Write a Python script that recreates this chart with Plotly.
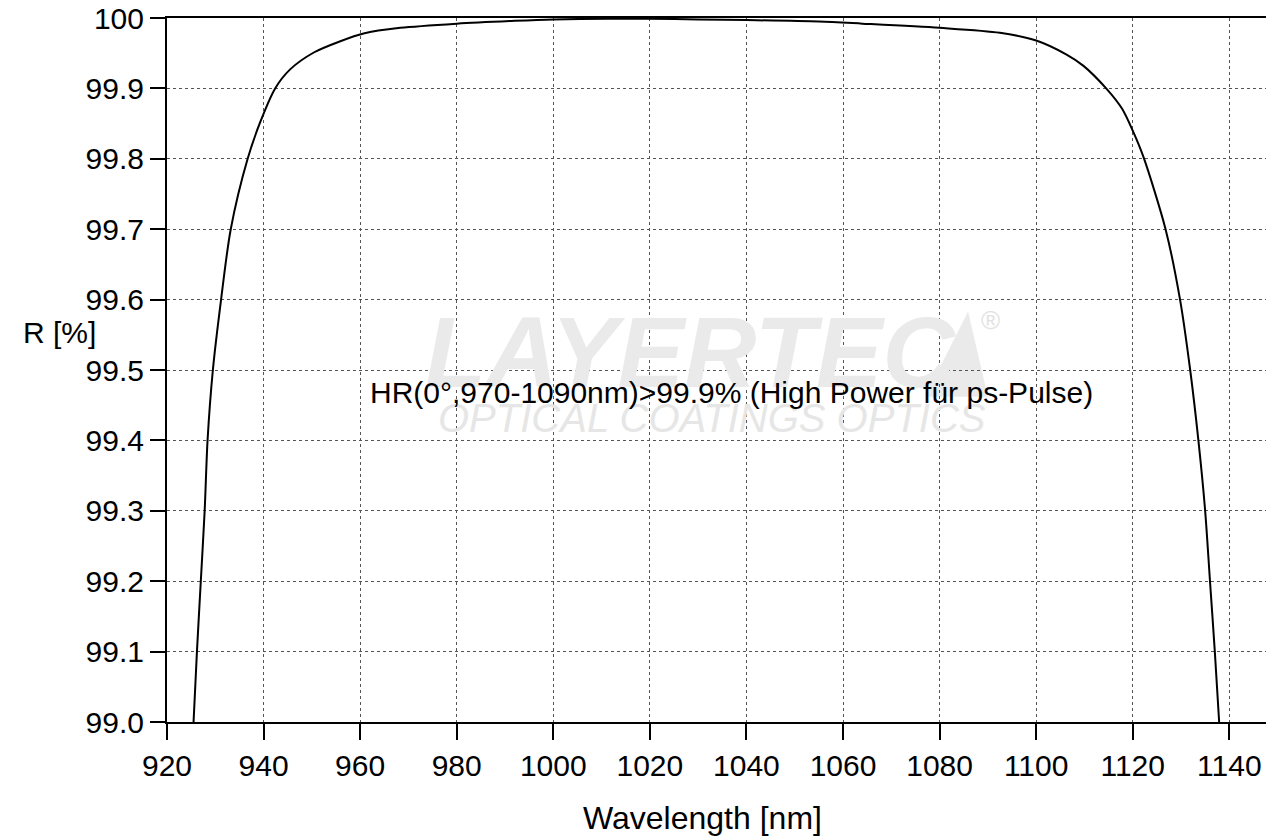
import plotly.graph_objects as go

# Data
wavelength_nm = [925.5, 926.2, 927.0, 927.8, 928.4, 929.5, 931.2, 933.2, 936.7, 939.3,
                 942.4, 945.5, 950.4, 955.9, 960.7, 968.3, 980.0, 992.0, 1000.0, 1011.0,
                 1020.0, 1030.0, 1040.0, 1055.0, 1064.0, 1080.0, 1092.5, 1100.0, 1106.3,
                 1109.8, 1114.5, 1117.8, 1120.0, 1122.2, 1126.8, 1129.8, 1131.9, 1133.6,
                 1135.0, 1136.0, 1137.0, 1137.9]
reflectance_pct = [99.0, 99.1, 99.2, 99.3, 99.4, 99.5, 99.6, 99.7, 99.8, 99.852,
                   99.9, 99.927, 99.951, 99.967, 99.978, 99.986, 99.992, 99.996, 99.998, 99.999,
                   99.999, 99.998, 99.997, 99.995, 99.992, 99.986, 99.979, 99.968, 99.948,
                   99.932, 99.9, 99.871, 99.84, 99.803, 99.7, 99.6, 99.5, 99.4,
                   99.3, 99.2, 99.1, 99.0]

x_ticks = [920, 940, 960, 980, 1000, 1020, 1040, 1060, 1080, 1100, 1120, 1140]
y_ticks = [99.0, 99.1, 99.2, 99.3, 99.4, 99.5, 99.6, 99.7, 99.8, 99.9, 100.0]
y_tick_labels = ["99.0", "99.1", "99.2", "99.3", "99.4", "99.5", "99.6", "99.7", "99.8", "99.9", "100"]

x_title = "Wavelength [nm]"
y_title = "R [%]"
note = "HR(0°,970-1090nm)>99.9% (High Power für ps-Pulse)"

FONT = "Liberation Sans, Arial, sans-serif"

L, T, PW, PH = 166.7, 18.3, 1099.3, 704.0
W, H = 1266, 837
B = H - T - PH


def px(xw):
    return (xw - L) / PW


def py(yw):
    return (T + PH - yw) / PH


fig = go.Figure()
fig.add_trace(go.Scatter(
    x=wavelength_nm, y=reflectance_pct, mode="lines",
    line=dict(color="black", width=2, shape="spline", smoothing=0.8),
    hoverinfo="skip", showlegend=False,
))

# watermark logo triangle (below the grid)
fig.add_shape(type="path", xref="x", yref="y", layer="below",
              path="M 1077.0 99.462 L 1085.9 99.583 L 1090.0 99.462 Z",
              fillcolor="#eaeaea", line=dict(width=0))

fig.update_layout(
    width=W, height=H, autosize=False,
    margin=dict(l=L, r=0, t=T, b=B, autoexpand=False),
    paper_bgcolor="white", plot_bgcolor="white",
    font=dict(family=FONT, color="black", size=30),
    xaxis=dict(
        range=[920, 1147.6], tickvals=x_ticks, ticks="outside", ticklen=16, tickwidth=2,
        tickcolor="black", showline=True, linecolor="black", linewidth=2, mirror=True,
        showgrid=True, gridcolor="#555555", gridwidth=1, griddash="3px,3px",
        zeroline=False, tickfont=dict(size=30), automargin=False,
        ticklabeloverflow="allow",
    ),
    yaxis=dict(
        range=[99.0, 100.0], tickvals=y_ticks, ticktext=y_tick_labels, ticks="outside",
        ticklen=15, tickwidth=2, tickcolor="black", showline=True, linecolor="black",
        linewidth=2, showgrid=True, gridcolor="#555555", gridwidth=1, griddash="3px,3px",
        zeroline=False, tickfont=dict(size=30), automargin=False, ticklabelstandoff=0,
        ticklabeloverflow="allow",
    ),
    annotations=[
        dict(text="<b><i>LAYERTEC</i></b>", xref="paper", yref="paper",
             x=px(690), y=py(352), xanchor="center", yanchor="middle",
             showarrow=False, font=dict(size=100, color="#eaeaea", family=FONT)),
        dict(text="®", xref="paper", yref="paper",
             x=px(990), y=py(320), xanchor="center", yanchor="middle",
             showarrow=False, font=dict(size=26, color="#e2e2e2", family=FONT)),
        dict(text="<i>OPTICAL COATINGS OPTICS</i>", xref="paper", yref="paper",
             x=px(712), y=py(418), xanchor="center", yanchor="middle",
             showarrow=False, font=dict(size=40, color="#e6e6e6", family=FONT)),
        dict(text=note, xref="x", yref="y", x=961.6, y=99.468, xanchor="left", yanchor="middle",
             showarrow=False, font=dict(size=30, color="black", family=FONT)),
        dict(text=y_title, xref="paper", yref="paper", x=px(59), y=py(333),
             xanchor="center", yanchor="middle",
             showarrow=False, font=dict(size=30, color="black", family=FONT)),
        dict(text=x_title, xref="paper", yref="paper", x=px(702), y=py(818),
             xanchor="center", yanchor="middle",
             showarrow=False, font=dict(size=32, color="black", family=FONT)),
    ],
)

fig.write_html(
    "out.html",
    config={"displayModeBar": False},
    post_script="document.body.style.margin='0';document.body.style.overflow='hidden';",
)
